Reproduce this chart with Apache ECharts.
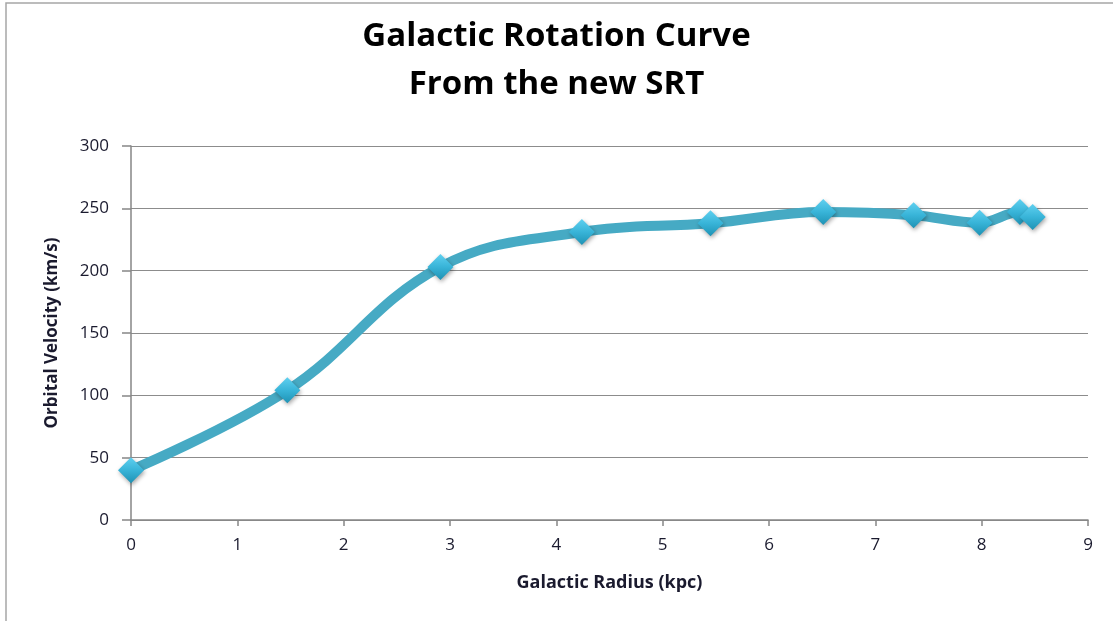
<!DOCTYPE html>
<html>
<head>
<meta charset="utf-8">
<script src="https://cdn.jsdelivr.net/npm/echarts@6/dist/echarts.min.js"></script>
<style>
html,body{margin:0;padding:0;background:#fff;}
#c{width:1113px;height:621px;}
</style>
</head>
<body>
<div id="c"></div>
<script>
const radius = [0, 1.47, 2.91, 4.24, 5.45, 6.51, 7.36, 7.98, 8.36, 8.48];
const velocity = [40, 104, 203, 231, 238, 247, 244.5, 238.5, 247, 243];
const titleLines = ['Galactic Rotation Curve', 'From the new SRT'];
const xName = 'Galactic Radius (kpc)';
const yName = 'Orbital Velocity (km/s)';

const data = radius.map((r, i) => [r, velocity[i]]);
const chart = echarts.init(document.getElementById('c'));
const font = 'Open Sans';
const txt = '#1a1a2e';
chart.setOption({
  backgroundColor: '#fff',
  animation: false,
  graphic: [{
    type: 'polyline',
    shape: { points: [[6, 621], [6, 3], [1113, 3]] },
    style: { stroke: '#a6a6a6', lineWidth: 1.5, fill: null }
  }],
  title: {
    text: titleLines.join('\n'),
    left: 'center',
    top: 8,
    textStyle: { fontFamily: font, fontWeight: 'bold', fontSize: 33, lineHeight: 48, color: '#000' }
  },
  grid: { left: 131, right: 25, top: 146, bottom: 101 },
  xAxis: {
    type: 'value', min: 0, max: 9, interval: 1,
    name: xName, nameLocation: 'middle', nameGap: 54,
    nameTextStyle: { fontFamily: font, fontWeight: 'bold', fontSize: 18, color: txt },
    axisLine: { show: true, lineStyle: { color: '#868686', width: 1.5 } },
    axisTick: { show: true, length: 6, lineStyle: { color: '#868686', width: 1.5 } },
    axisLabel: { fontFamily: font, fontSize: 17, color: txt, margin: 17 },
    splitLine: { show: false }
  },
  yAxis: {
    type: 'value', min: 0, max: 300, interval: 50,
    name: yName, nameLocation: 'middle', nameGap: 70, nameRotate: 90,
    nameTextStyle: { fontFamily: font, fontWeight: 'bold', fontSize: 17, color: txt },
    axisLine: { show: true, lineStyle: { color: '#868686', width: 1.5 } },
    axisTick: { show: true, length: 9, lineStyle: { color: '#868686', width: 1.5 } },
    axisLabel: { fontFamily: font, fontSize: 17, color: txt, margin: 22 },
    splitLine: { show: true, lineStyle: { color: '#8c8c8c', width: 1.2 } }
  },
  series: [{
    type: 'line',
    data: data,
    smooth: 0.4,
    lineStyle: { color: '#46aac4', width: 10 },
    symbol: 'diamond',
    symbolSize: 26,
    itemStyle: {
      color: new echarts.graphic.LinearGradient(0, 0, 0, 1, [
        { offset: 0, color: '#5fd0f0' },
        { offset: 0.5, color: '#38b4d8' },
        { offset: 1, color: '#1f92b4' }
      ]),
      shadowColor: 'rgba(0,0,0,0.35)', shadowBlur: 4, shadowOffsetX: 1, shadowOffsetY: 2
    },
    z: 3
  }]
});
</script>
</body>
</html>
